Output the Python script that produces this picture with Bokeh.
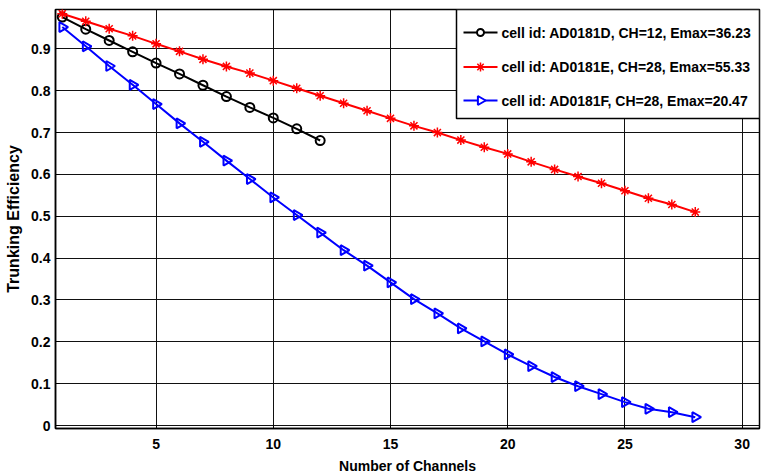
import math
from bokeh.plotting import figure
from bokeh.models import Range1d, FixedTicker
from bokeh.core.properties import value
from bokeh.embed import file_html
from bokeh.resources import INLINE

channels_d = list(range(1, 13))
eff_d = [0.976, 0.947, 0.920, 0.893, 0.866, 0.840, 0.813, 0.786, 0.760, 0.735, 0.709, 0.681]

channels_e = list(range(1, 29))
eff_e = [0.984, 0.966, 0.948, 0.931, 0.912, 0.894, 0.875, 0.858, 0.842, 0.824,
         0.806, 0.788, 0.770, 0.752, 0.734, 0.716, 0.700, 0.682, 0.665, 0.649,
         0.630, 0.612, 0.595, 0.579, 0.561, 0.543, 0.528, 0.510]

channels_f = list(range(1, 29))
eff_f = [0.952, 0.906, 0.859, 0.814, 0.768, 0.722, 0.678, 0.633, 0.589, 0.545,
         0.503, 0.461, 0.419, 0.382, 0.342, 0.302, 0.268, 0.232, 0.201, 0.170,
         0.142, 0.116, 0.094, 0.075, 0.056, 0.040, 0.032, 0.020]

labels = ["cell id: AD0181D, CH=12, Emax=36.23",
          "cell id: AD0181E, CH=28, Emax=55.33",
          "cell id: AD0181F, CH=28, Emax=20.47"]
colors = ["black", "red", "blue"]

x_ticks = [5, 10, 15, 20, 25, 30]
y_ticks = [0, 0.1, 0.2, 0.3, 0.4, 0.5, 0.6, 0.7, 0.8, 0.9]

FONT = "'Liberation Sans', Arial, sans-serif"

# layout constants (pixels)
W, H = 763, 476
BL, BR, BT, BB = 55, 4, 9, 48
FW, FH = W - BL - BR, H - BT - BB
LEG_LEFT, LEG_HEIGHT = 401, 109        # legend box, from frame left / frame top
ROW_OFFSETS = [23, 57.5, 91]           # legend row centres, from frame top
LINE_X0, LINE_X1, TEXT_X = 408, 442, 446

p = figure(width=W, height=H, output_backend="svg", toolbar_location=None,
           x_range=Range1d(0.71, 30.74), y_range=Range1d(-0.007, 0.994),
           min_border_left=BL, min_border_right=BR, min_border_top=BT, min_border_bottom=BB)
p.extra_x_ranges = {"px": Range1d(0, FW)}
p.extra_y_ranges = {"py": Range1d(0, FH)}

p.background_fill_color = "white"
p.border_fill_color = "white"
p.outline_line_color = "black"
p.outline_line_width = 1.5

for ax in (p.xaxis[0], p.yaxis[0]):
    ax.axis_line_color = "black"
    ax.axis_line_width = 1.5
    ax.major_tick_in = 4
    ax.major_tick_out = 0
    ax.minor_tick_line_color = None
    ax.major_label_text_font = FONT
    ax.major_label_text_font_style = "bold"
    ax.major_label_text_font_size = "14px"
    ax.major_label_text_color = "black"
    ax.axis_label_text_font = FONT
    ax.axis_label_text_font_style = "bold"
    ax.axis_label_text_color = "black"

p.xaxis.ticker = FixedTicker(ticks=x_ticks)
p.yaxis.ticker = FixedTicker(ticks=y_ticks)
p.xaxis.axis_label = "Number of Channels"
p.yaxis.axis_label = "Trunking Efficiency"
p.xaxis.axis_label_text_font_size = "14px"
p.yaxis.axis_label_text_font_size = "16px"
p.xaxis.major_label_standoff = 10
p.yaxis.major_label_standoff = 5
p.xaxis.axis_label_standoff = 6
p.yaxis.axis_label_standoff = 6

p.xgrid.grid_line_color = "#111111"
p.ygrid.grid_line_color = "#111111"
p.xgrid.grid_line_width = 1
p.ygrid.grid_line_width = 1

# data series
p.line(channels_d, eff_d, line_color=colors[0], line_width=2)
p.scatter(channels_d, eff_d, marker="circle", size=9, line_color=colors[0],
          fill_color=None, line_width=2)

p.line(channels_e, eff_e, line_color=colors[1], line_width=2)
p.scatter(channels_e, eff_e, marker="asterisk", size=10, line_color=colors[1],
          line_width=1.5)

p.line(channels_f, eff_f, line_color=colors[2], line_width=2)
p.scatter(channels_f, eff_f, marker="triangle", size=10, angle=-math.pi / 2,
          line_color=colors[2], fill_color=None, line_width=2)

# legend (drawn in frame-pixel coordinates so the triangle can point right)
rows_y = [FH - r for r in ROW_OFFSETS]
p.quad(left=[LEG_LEFT], right=[FW], top=[FH], bottom=[FH - LEG_HEIGHT],
       x_range_name="px", y_range_name="py",
       fill_color="white", line_color="black", line_width=1.5)
p.segment(x0=[LINE_X0] * 3, x1=[LINE_X1] * 3, y0=rows_y, y1=rows_y, line_color=colors,
          line_width=2, x_range_name="px", y_range_name="py")
mx = (LINE_X0 + LINE_X1) / 2
p.scatter([mx], [rows_y[0]], marker="circle", size=7, line_color=colors[0],
          fill_color="white", line_width=2, x_range_name="px", y_range_name="py")
p.scatter([mx], [rows_y[1]], marker="asterisk", size=9, line_color=colors[1],
          line_width=1.5, x_range_name="px", y_range_name="py")
p.scatter([mx], [rows_y[2]], marker="triangle", size=9, angle=-math.pi / 2,
          line_color=colors[2], fill_color="white", line_width=2,
          x_range_name="px", y_range_name="py")
p.text(x=[TEXT_X] * 3, y=rows_y, text=labels, x_range_name="px", y_range_name="py",
       text_font=value(FONT), text_font_style="bold", text_font_size="14px",
       text_color="black", text_baseline="middle", text_align="left")

open("out.html", "w").write(file_html(p, INLINE))
